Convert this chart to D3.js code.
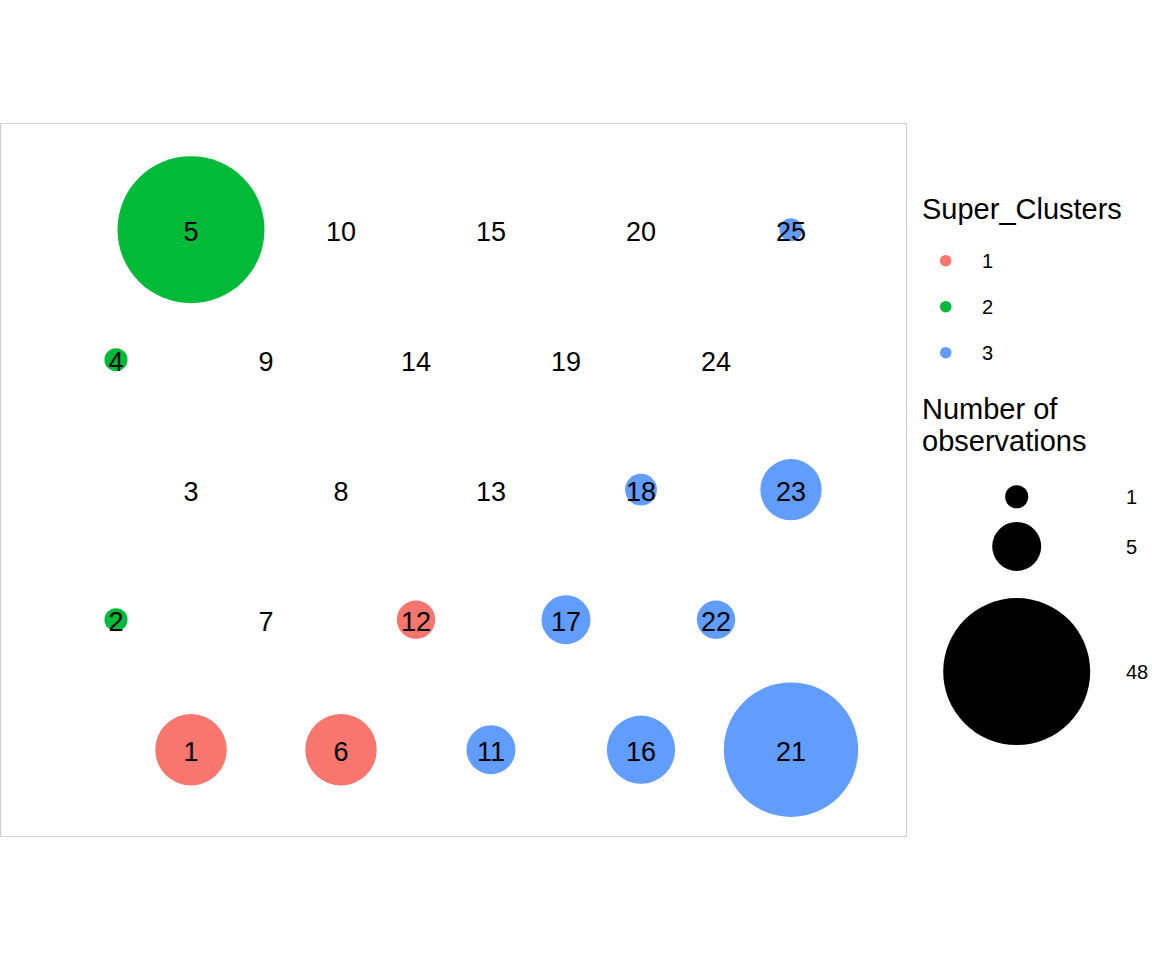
<!DOCTYPE html>
<html>
<head>
<meta charset="utf-8">
<script src="https://cdn.jsdelivr.net/npm/d3@7"></script>
<style>
  body { margin: 0; background: #fff; }
  svg { display: block; }
  text { font-family: "Liberation Sans", Arial, Helvetica, sans-serif; }
</style>
</head>
<body>
<svg id="chart" width="1152" height="960"></svg>
<script>
// ---- data ----
const nodeIds = d3.range(1, 26);
const nodeCounts = [11, 1, 0, 1, 48, 11, 0, 0, 0, 0, 5, 3, 0, 0, 0, 10, 5, 2, 0, 0, 40, 3, 8, 0, 1];
const nodeClusters = [1, 2, null, 2, 2, 1, null, null, null, null, 3, 1, null, null, null, 3, 3, 3, null, null, 3, 3, 3, null, 3];
const clusterLevels = ["1", "2", "3"];
const clusterColors = ["#F8766D", "#00BA38", "#619CFF"];
const sizeBreaks = [1, 5, 48];
const gridRows = 5;

// ---- layout ----
const svg = d3.select("#chart");
const panel = { left: 0.5, top: 123.5, right: 906.5, bottom: 836.5 };
const h3 = Math.sqrt(3) / 2;

// hex grid coordinates (kohonen-like)
const nodes = nodeIds.map((id, i) => {
  const col = Math.floor(i / gridRows);
  const row = i % gridRows;
  return {
    id, count: nodeCounts[i], cluster: nodeClusters[i],
    hx: col + (row % 2 === 0 ? 1.5 : 1),
    hy: 1 + row * h3
  };
});

const x = d3.scaleLinear().domain([1, 5.5]).range([116, 791]);
const y = d3.scaleLinear().domain([1, 1 + 4 * h3]).range([749.7, 229.7]);
const r = d3.scaleSqrt().domain([0, d3.max(nodeCounts)]).range([1.1, 73.5]);
const color = d3.scaleOrdinal().domain(clusterLevels).range(clusterColors);

// panel border
svg.append("rect")
  .attr("x", panel.left).attr("y", panel.top)
  .attr("width", panel.right - panel.left).attr("height", panel.bottom - panel.top)
  .attr("fill", "none").attr("stroke", "#cccccc").attr("stroke-width", 1);

// circles
svg.append("g").selectAll("circle")
  .data(nodes.filter(d => d.count > 0))
  .join("circle")
  .attr("cx", d => x(d.hx))
  .attr("cy", d => y(d.hy))
  .attr("r", d => r(d.count))
  .attr("fill", d => color(String(d.cluster)));

// labels
svg.append("g").selectAll("text")
  .data(nodes)
  .join("text")
  .attr("x", d => x(d.hx))
  .attr("y", d => y(d.hy))
  .attr("dy", "0.42em")
  .attr("text-anchor", "middle")
  .attr("font-size", 27)
  .attr("fill", "#000")
  .text(d => d.id);

// ---- legend: Super_Clusters ----
const lg = svg.append("g");
lg.append("text").attr("x", 922).attr("y", 219).attr("font-size", 29).text("Super_Clusters");
const keyStep = 46;
clusterLevels.forEach((lvl, i) => {
  const cy = 260.7 + i * keyStep;
  lg.append("circle").attr("cx", 945.7).attr("cy", cy).attr("r", 5.8).attr("fill", color(lvl));
  lg.append("text").attr("x", 982).attr("y", cy).attr("dy", "0.36em").attr("font-size", 20).text(lvl);
});

// ---- legend: Number of observations ----
const sg = svg.append("g");
sg.append("text").attr("x", 922).attr("y", 419).attr("font-size", 29).text("Number of");
sg.append("text").attr("x", 922).attr("y", 451).attr("font-size", 29).text("observations");
let keyTop = 479.8;
sizeBreaks.forEach(b => {
  const d = 2 * r(b);
  const h = 1.217 * d + 5.85;
  const cy = keyTop + h / 2;
  sg.append("circle").attr("cx", 1016.7).attr("cy", cy).attr("r", r(b)).attr("fill", "#000");
  sg.append("text").attr("x", 1126).attr("y", cy).attr("dy", "0.36em").attr("font-size", 20).text(b);
  keyTop += h;
});
</script>
</body>
</html>
